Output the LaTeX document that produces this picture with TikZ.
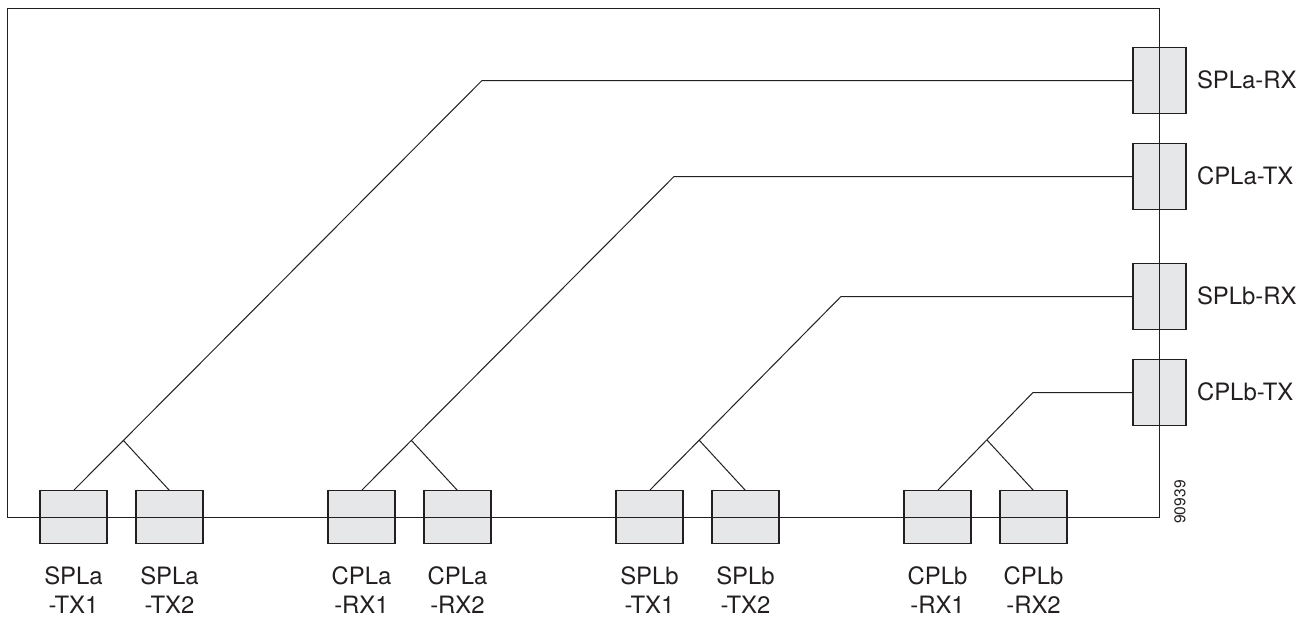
\documentclass[tikz,border=0pt]{standalone}
\usepackage{fontspec}
\setmainfont{TeX Gyre Heros}
\usetikzlibrary{positioning}
\definecolor{boxgray}{HTML}{E6E7E8}
\definecolor{inkgray}{HTML}{231F20}
\begin{document}
\begin{tikzpicture}[x=1pt, y=-1pt, line width=1pt, color=inkgray,
    portbox/.style={draw, line width=1.3pt, fill=boxgray, inner sep=0, outer sep=0},
    wide/.style={portbox, minimum width=67pt, minimum height=53pt},
    tall/.style={portbox, minimum width=53pt, minimum height=66pt},
    portlabel/.style={font=\fontsize{23.9}{28.5}\selectfont, inner sep=0, align=center}]
      \useasboundingbox (0, 0) rectangle (1300, 616);
      % ports along the bottom
      \node (splatxa) [wide] at (73.5, 517) {};
      \node (splatxb) [wide] at (169.5, 517) {};
      \node (cplarxa) [wide] at (361.5, 517) {};
      \node (cplarxb) [wide] at (457.5, 517) {};
      \node (splbtxa) [wide] at (649.5, 517) {};
      \node (splbtxb) [wide] at (745.5, 517) {};
      \node (cplbrxa) [wide] at (937.5, 517) {};
      \node (cplbrxb) [wide] at (1033.5, 517) {};
      % ports along the right side
      \node (splarx) [tall] at (1159.5, 80.5) {};
      \node (cplatx) [tall] at (1159.5, 176.5) {};
      \node (splbrx) [tall] at (1159.5, 296.5) {};
      \node (cplbtx) [tall] at (1159.5, 392.5) {};
      % board outline runs through the ports
      \draw (7.5, 8.5) rectangle (1159.5, 517.5);
      % bends and joins
      \coordinate (bendsa) at (482, 80.5);
      \coordinate (joinsa) at (123, 440);
      \coordinate (bendca) at (674, 176.5);
      \coordinate (joinca) at (411, 440);
      \coordinate (bendsb) at (841, 296.5);
      \coordinate (joinsb) at (699, 440);
      \coordinate (bendcb) at (1033, 392.5);
      \coordinate (joincb) at (987, 440);
      \draw (splarx.west) -- (bendsa) -- (splatxa.north)
            (joinsa) -- (splatxb.north);
      \draw (cplatx.west) -- (bendca) -- (cplarxa.north)
            (joinca) -- (cplarxb.north);
      \draw (splbrx.west) -- (bendsb) -- (splbtxa.north)
            (joinsb) -- (splbtxb.north);
      \draw (cplbtx.west) -- (bendcb) -- (cplbrxa.north)
            (joincb) -- (cplbrxb.north);
      % labels
      \node (lsplarx) [portlabel, anchor=west] at (1196.5, 80) {SPLa-RX};
      \node (lcplatx) [portlabel, anchor=west] at (1196.5, 176) {CPLa-TX};
      \node (lsplbrx) [portlabel, anchor=west] at (1196.5, 296) {SPLb-RX};
      \node (lcplbtx) [portlabel, anchor=west] at (1196.5, 392) {CPLb-TX};
      \node (lsplatxa) [portlabel] at (73.5, 590) {SPLa\\-TX1};
      \node (lsplatxb) [portlabel] at (169.5, 590) {SPLa\\-TX2};
      \node (lcplarxa) [portlabel] at (361.5, 590) {CPLa\\-RX1};
      \node (lcplarxb) [portlabel] at (457.5, 590) {CPLa\\-RX2};
      \node (lsplbtxa) [portlabel] at (649.5, 590) {SPLb\\-TX1};
      \node (lsplbtxb) [portlabel] at (745.5, 590) {SPLb\\-TX2};
      \node (lcplbrxa) [portlabel] at (937.5, 590) {CPLb\\-RX1};
      \node (lcplbrxb) [portlabel] at (1033.5, 590) {CPLb\\-RX2};
      \node (figno) [font=\fontsize{15.6}{18}\selectfont, inner sep=0, rotate=90] at (1180, 502) {90939};
\end{tikzpicture}
\end{document}
